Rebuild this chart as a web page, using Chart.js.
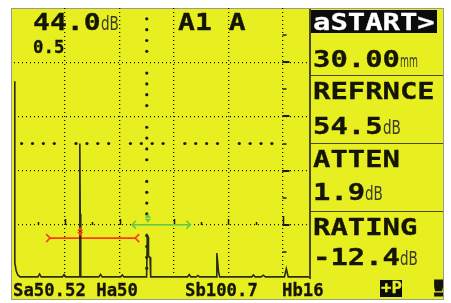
<!DOCTYPE html>
<html><head><meta charset="utf-8">
<script src="https://cdn.jsdelivr.net/npm/chart.js@4.4.1/dist/chart.umd.min.js"></script>
<style>
html,body{margin:0;padding:0;background:#fff;width:451px;height:303px;overflow:hidden;position:relative}
#screen{position:absolute;left:12px;top:9px;width:431px;height:290px;background:#e7ef21;box-shadow:0 0 0 1px #9a9a90}
#c{position:absolute;left:0;top:0}
.t{position:absolute;white-space:pre;line-height:1;font-family:"DejaVu Sans Mono",monospace;font-weight:bold;color:#151505;transform-origin:0 0;-webkit-text-stroke:0.3px currentColor}
.u{font-family:"DejaVu Sans Condensed","DejaVu Sans",sans-serif;font-weight:normal;color:#3a3a28;-webkit-text-stroke:0}
.ln{position:absolute;background:#4a4a18}
.box{position:absolute;background:#0c0c0c}
</style></head>
<body>
<div id="screen"></div>
<canvas id="c" width="451" height="303"></canvas>
<script>
// ---- data (x in screen divisions, y in % amplitude) ----
const xGridTicks = [1, 2, 3, 4, 5];
const yGridTicks = [20, 40, 60, 80];
const traceX = [0.07, 0.075, 0.1, 0.13, 0.17, 0.5, 0.53, 0.56, 0.95, 0.98, 1.01, 1.262, 1.27, 1.277, 1.283, 1.29,
  1.62, 1.65, 1.68, 2.02, 2.05, 2.08, 2.497, 2.51, 2.525, 2.532, 2.56, 2.572, 3.25, 3.28, 3.31, 3.41, 3.44, 3.47,
  3.775, 3.788, 3.8, 3.82, 3.84, 4.43, 4.46, 4.49, 4.6, 4.64, 4.68, 5.03, 5.065, 5.1, 5.5];
const traceY = [73, 6, 3, 1.5, 0.8, 0.8, 1.8, 0.8, 0.8, 1.6, 0.8, 0.8, 50, 24, 23, 0.8,
  0.8, 1.7, 0.8, 0.8, 1.5, 0.8, 0.8, 16, 15.5, 8.5, 8, 0.8, 0.8, 1.6, 0.8, 0.8, 1.3, 0.8,
  0.8, 9.6, 7, 2.5, 0.8, 0.8, 1.5, 0.8, 0.8, 1.4, 0.8, 0.8, 3.8, 0.8, 0.8];
const gateA = [0.724, 2.287, 15.1];   // start, end, level
const gateB = [2.23, 3.30, 20];
const gateAMark = [1.276];
const gateBMark = [2.52];
const headerTexts = ['44.0', 'A1 A', '0.5'];
const headerUnit = 'dB';
const panelLabels = ['aSTART>', 'REFRNCE', 'ATTEN', 'RATING'];
const panelValues = ['30.00', '54.5', '1.9', '-12.4'];
const panelUnits = ['mm', 'dB', 'dB', 'dB'];
const statusTexts = ['Sa50.52 Ha50', 'Sb100.7', 'Hb16'];
const statusIcons = ['+P', '!'];

// ---- text helpers ----
function addText(txt, left, baseline, size, sx, cls, extra) {
  const d = document.createElement('div');
  d.className = 't' + (cls ? ' ' + cls : '');
  d.textContent = txt;
  d.style.left = left + 'px';
  d.style.top = (baseline - 0.846 * size) + 'px';
  d.style.fontSize = size + 'px';
  d.style.transform = 'scaleX(' + sx + ')';
  if (extra) Object.assign(d.style, extra);
  document.body.appendChild(d);
  return d;
}
function addDiv(cls, l, t, w, h) {
  const d = document.createElement('div');
  d.className = cls;
  Object.assign(d.style, {left: l + 'px', top: t + 'px', width: w + 'px', height: h + 'px'});
  document.body.appendChild(d);
}

// ---- chart ----
const pts = traceX.map((x, i) => ({x, y: traceY[i]}));
const dot = (ctx, px, py, r) => { ctx.beginPath(); ctx.arc(px, py, r, 0, Math.PI * 2); ctx.fill(); };

const deco = {
  id: 'deco',
  beforeDatasetsDraw(chart) {
    const {ctx, scales: {x, y}} = chart;
    ctx.save();
    ctx.fillStyle = '#1b1b0c';
    ctx.strokeStyle = '#1b1b0c';
    const cx = x.getPixelForValue(2.5), cy = y.getPixelForValue(50);
    for (let v = 4; v < 100; v += 4) { if (v % 20) dot(ctx, cx, y.getPixelForValue(v), 1.6); }
    for (let k = 1; k < 25; k++) { if (k % 5) dot(ctx, x.getPixelForValue(k / 5), cy, 1.6); }
    // ticks on the right graticule line
    const rx = Math.round(x.getPixelForValue(5)) + 0.5;
    ctx.lineWidth = 2;
    yGridTicks.forEach(v => { const py = Math.round(y.getPixelForValue(v)); ctx.beginPath(); ctx.moveTo(rx - 1, py); ctx.lineTo(rx + 6, py); ctx.stroke(); });
    ctx.lineWidth = 1.5;
    [10, 30, 50, 70, 90].forEach(v => { const py = Math.round(y.getPixelForValue(v)); ctx.beginPath(); ctx.moveTo(rx - 1, py); ctx.lineTo(rx + 3, py); ctx.stroke(); });
    const py20 = Math.round(y.getPixelForValue(20));
    ctx.beginPath(); ctx.moveTo(rx, py20); ctx.lineTo(rx, py20 - 9); ctx.stroke();
    // ticks along 20% line
    ctx.lineWidth = 1.5;
    [0.5, 1.5, 3.5, 4.5].forEach(v => { const px = Math.round(x.getPixelForValue(v)) + 0.5; ctx.beginPath(); ctx.moveTo(px, py20); ctx.lineTo(px, py20 - 3); ctx.stroke(); });
    [1, 2, 3, 4].forEach(v => { const px = Math.round(x.getPixelForValue(v)) + 0.5; ctx.beginPath(); ctx.moveTo(px, py20); ctx.lineTo(px, py20 - 6); ctx.stroke(); });
    ctx.restore();
  },
  afterDatasetsDraw(chart) {
    const {ctx, scales: {x, y}} = chart;
    ctx.save();
    ctx.lineWidth = 1.6;
    // red gate fishtail ends
    const a = chart.getDatasetMeta(1).data;
    ctx.strokeStyle = '#ff3a1c';
    const ay = a[0].y;
    ctx.beginPath();
    ctx.moveTo(a[0].x - 4, ay - 4); ctx.lineTo(a[0].x, ay); ctx.lineTo(a[0].x - 4, ay + 4);
    ctx.moveTo(a[1].x + 4, ay - 4); ctx.lineTo(a[1].x, ay); ctx.lineTo(a[1].x + 4, ay + 4);
    ctx.stroke();
    // red marker
    ctx.fillStyle = '#ff3a1c';
    const mx = x.getPixelForValue(gateAMark[0]);
    ctx.beginPath(); ctx.moveTo(mx - 3, ay - 7); ctx.lineTo(mx + 3, ay - 7); ctx.lineTo(mx, ay - 11); ctx.closePath(); ctx.fill();
    ctx.beginPath(); ctx.moveTo(mx - 3, ay - 6); ctx.lineTo(mx + 3, ay - 6); ctx.lineTo(mx, ay - 2); ctx.closePath(); ctx.fill();
    // green gate arrow ends
    const b = chart.getDatasetMeta(2).data;
    ctx.strokeStyle = '#62c84a';
    const by = b[0].y;
    ctx.beginPath();
    ctx.moveTo(b[0].x + 4, by - 4); ctx.lineTo(b[0].x, by); ctx.lineTo(b[0].x + 4, by + 4);
    ctx.moveTo(b[1].x - 4, by - 4); ctx.lineTo(b[1].x, by); ctx.lineTo(b[1].x - 4, by + 4);
    ctx.stroke();
    ctx.fillStyle = '#62c84a';
    const gx = x.getPixelForValue(gateBMark[0]);
    ctx.beginPath(); ctx.moveTo(gx - 3, by - 7); ctx.lineTo(gx + 3, by - 7); ctx.lineTo(gx, by - 11); ctx.closePath(); ctx.fill();
    ctx.beginPath(); ctx.moveTo(gx - 3, by - 6); ctx.lineTo(gx + 3, by - 6); ctx.lineTo(gx, by - 2); ctx.closePath(); ctx.fill();
    ctx.restore();
  }
};

const gridCommon = {color: 'rgba(20,20,6,1)', lineWidth: 1.3, drawTicks: false};
new Chart(document.getElementById('c'), {
  type: 'line',
  data: {
    datasets: [
      {data: pts, borderColor: '#2c2c14', borderWidth: 1.6, pointRadius: 0, tension: 0},
      {data: [{x: gateA[0], y: gateA[2]}, {x: gateA[1], y: gateA[2]}], borderColor: '#ff3a1c', borderWidth: 1.6, pointRadius: 0},
      {data: [{x: gateB[0], y: gateB[2]}, {x: gateB[1], y: gateB[2]}], borderColor: '#62c84a', borderWidth: 1.6, pointRadius: 0}
    ]
  },
  options: {
    responsive: false, animation: false, devicePixelRatio: 1,
    layout: {padding: {left: 14, top: 8, right: 141, bottom: 24}},
    plugins: {legend: {display: false}, tooltip: {enabled: false}},
    scales: {
      x: {type: 'linear', min: 0.06, max: 5.5,
          afterBuildTicks: s => { s.ticks = xGridTicks.map(v => ({value: v})); },
          ticks: {display: false}, grid: gridCommon, border: {display: false, dash: [1, 3]}},
      y: {type: 'linear', min: 0, max: 100,
          afterBuildTicks: s => { s.ticks = yGridTicks.map(v => ({value: v})); },
          ticks: {display: false}, grid: gridCommon, border: {display: false, dash: [1, 3]}}
    }
  },
  plugins: [deco]
});

// ---- header texts ----
addText(headerTexts[0], 33, 30, 23, 1.22);
addText(headerUnit, 101, 30, 20, 0.75, 'u');
addText(headerTexts[1], 178, 30, 23, 1.22);
addText(headerTexts[2], 33, 53, 17, 1.02);

// ---- right panel ----
addDiv('ln', 309, 9, 1.5, 270);
[75, 143, 211].forEach(yy => addDiv('ln', 309, yy, 134, 1.2));
addDiv('box', 311, 10, 126, 23);
const labelBase = [30, 99, 167, 235];
const valueBase = [67, 134, 200, 265];
panelLabels.forEach((s, i) => addText(s, 313, labelBase[i], 23, 1.256, '', i === 0 ? {color: '#fff'} : null));
panelValues.forEach((s, i) => {
  addText(s, 313, valueBase[i], 23, 1.256);
  const ul = 313 + s.length * 17.4;
  if (panelUnits[i] === 'mm') addText(panelUnits[i], ul, valueBase[i], 17, 0.6, 'u');
  else addText(panelUnits[i], ul, valueBase[i], 20, 0.75, 'u');
});

// ---- status bar ----
addText(statusTexts[0], 13, 296, 18, 0.96);
addText(statusTexts[1], 185, 296, 18, 0.96);
addText(statusTexts[2], 282, 296, 18, 0.96);
addDiv('box', 380, 280, 22, 17);
addText(statusIcons[0], 381, 294, 15, 1.15, '', {color: '#e7ef21'});
addText(statusIcons[1], 424, 297, 22, 2.2, '', {WebkitTextStroke: '1.2px #151505'});
</script>
</body></html>
